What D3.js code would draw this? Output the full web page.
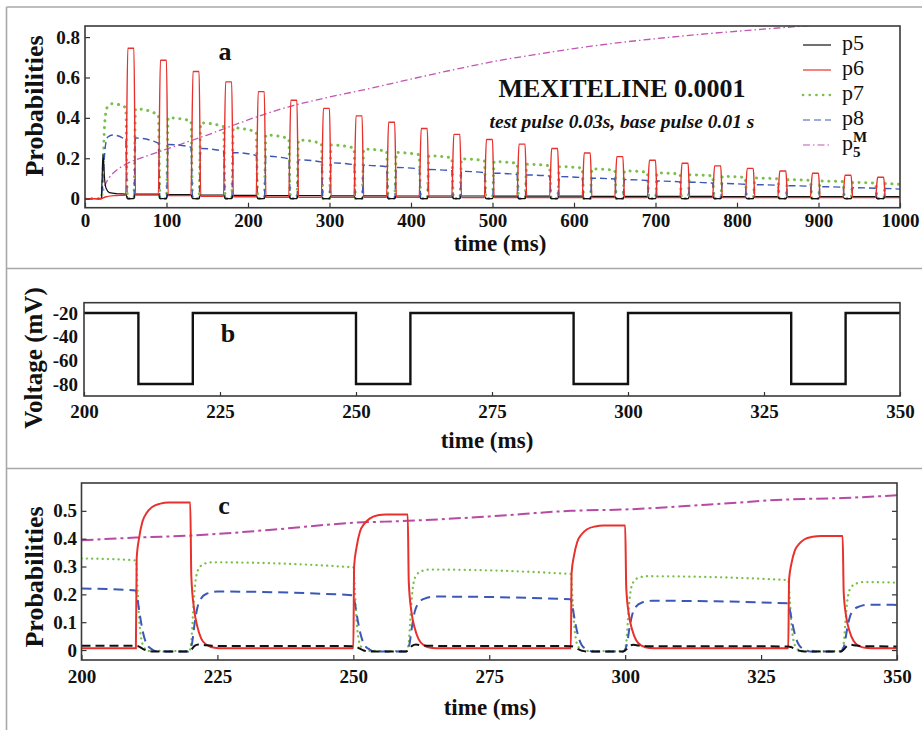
<!DOCTYPE html>
<html>
<head>
<meta charset="utf-8">
<script src="https://cdn.jsdelivr.net/npm/d3@7"></script>
<style>
  body { margin: 0; background: #fff; }
  svg text { font-family: "Liberation Serif", "Times New Roman", serif !important; }
</style>
</head>
<body>
<div id="chart"></div>
<script>
// ---------- panel a : 0..1000 ms, mexiletine 0.0001 ----------
const basePulseStarts = [50, 90, 130, 170, 210, 250, 290, 330, 370, 410, 450, 490,
                         530, 570, 610, 650, 690, 730, 770, 810, 850, 890, 930, 970];
const p6Peaks = [0.745, 0.685, 0.63, 0.578, 0.53, 0.487, 0.447, 0.41, 0.378, 0.347, 0.318, 0.293,
                 0.27, 0.248, 0.226, 0.208, 0.19, 0.175, 0.162, 0.15, 0.137, 0.126, 0.116, 0.106];
// level of each series during the 25 test pulses
const p6Base = [0.018, 0.018, 0.015, 0.012, 0.009, 0.007, 0.006, 0.006, 0.006, 0.006, 0.006, 0.005, 0.005,
                0.005, 0.005, 0.005, 0.005, 0.005, 0.005, 0.005, 0.005, 0.005, 0.005, 0.005, 0.005];
const p5Levels = [0.022, 0.022, 0.02, 0.018, 0.016, 0.015, 0.015, 0.014, 0.014, 0.013, 0.013, 0.013, 0.012,
                  0.012, 0.012, 0.011, 0.011, 0.011, 0.011, 0.01, 0.01, 0.01, 0.01, 0.01, 0.01];
const p7Start = [0.47, 0.445, 0.40, 0.375, 0.35, 0.315, 0.29, 0.265, 0.245, 0.228, 0.212, 0.197, 0.183,
                 0.17, 0.158, 0.147, 0.137, 0.127, 0.118, 0.11, 0.102, 0.094, 0.087, 0.08, 0.074];
const p7End = [0.45, 0.415, 0.385, 0.357, 0.33, 0.297, 0.273, 0.251, 0.235, 0.218, 0.202, 0.188, 0.175,
               0.163, 0.152, 0.141, 0.131, 0.122, 0.113, 0.105, 0.098, 0.09, 0.084, 0.077, 0.071];
const p8Start = [0.315, 0.30, 0.268, 0.248, 0.228, 0.21, 0.192, 0.177, 0.165, 0.154, 0.144, 0.135, 0.126,
                 0.117, 0.109, 0.101, 0.094, 0.087, 0.081, 0.075, 0.069, 0.064, 0.059, 0.054, 0.05];
const p8End = [0.29, 0.275, 0.255, 0.235, 0.214, 0.197, 0.182, 0.168, 0.158, 0.148, 0.138, 0.129, 0.12,
               0.112, 0.104, 0.097, 0.09, 0.083, 0.077, 0.071, 0.066, 0.061, 0.056, 0.051, 0.047];
// first depolarisation (t = 20 ms)
const p5Onset = [[0, 0], [20, 0], [21, 0.1], [22, 0.22], [23, 0.17], [24, 0.1], [26, 0.05], [30, 0.03], [40, 0.024], [50, 0.022]];
const p6Onset = [[0, 0], [20, 0], [25, 0.008], [35, 0.015], [50, 0.018]];
const p7Onset = [[0, 0], [20, 0], [22, 0.12], [24, 0.36], [27, 0.45], [33, 0.47], [42, 0.465], [50, 0.45]];
const p8Onset = [[0, 0], [20, 0], [22, 0.1], [25, 0.26], [28, 0.305], [34, 0.315], [50, 0.29]];
const pM5a = [[0, 0], [20, 0], [22, 0.03], [25, 0.07], [30, 0.105], [40, 0.145], [50, 0.17], [75, 0.21],
              [100, 0.245], [150, 0.315], [200, 0.39], [250, 0.455], [300, 0.503], [350, 0.546],
              [400, 0.592], [460, 0.645], [500, 0.678], [550, 0.712], [600, 0.743], [650, 0.77],
              [700, 0.792], [750, 0.812], [800, 0.829], [850, 0.845], [900, 0.86], [1000, 0.885]];

// ---------- panel b : voltage protocol ----------
const voltage = [[200, -20], [210, -80], [220, -20], [250, -80], [260, -20],
                 [290, -80], [300, -20], [330, -80], [340, -20], [350, -20]];

// ---------- panel c : zoom 200..350 ms ----------
const p6c = [[200, 0.006], [210, 0.006], [210.15, 0.329], [210.6, 0.403], [211.2, 0.461], [212, 0.493], [213, 0.514], [214.5, 0.526], [216, 0.53], [220, 0.53],
  [220.2, 0.265], [220.7, 0.148], [221.3, 0.085], [222, 0.042], [223, 0.019], [224.5, 0.008], [226, 0.006],
  [250, 0.006], [250.15, 0.302], [250.6, 0.37], [251.2, 0.424], [252, 0.453], [253, 0.472], [254.5, 0.484], [256, 0.487], [260, 0.487],
  [260.2, 0.244], [260.7, 0.136], [261.3, 0.078], [262, 0.039], [263, 0.017], [264.5, 0.007], [266, 0.006],
  [290, 0.006], [290.15, 0.277], [290.6, 0.34], [291.2, 0.389], [292, 0.416], [293, 0.434], [294.5, 0.444], [296, 0.447], [300, 0.447],
  [300.2, 0.224], [300.7, 0.125], [301.3, 0.072], [302, 0.036], [303, 0.016], [304.5, 0.007], [306, 0.006],
  [330, 0.006], [330.15, 0.254], [330.6, 0.312], [331.2, 0.357], [332, 0.381], [333, 0.398], [334.5, 0.407], [336, 0.41], [340, 0.41],
  [340.2, 0.205], [340.7, 0.115], [341.3, 0.066], [342, 0.033], [343, 0.014], [344.5, 0.007], [346, 0.006], [350, 0.006]];
const p7c = [[200, 0.329], [210, 0.322],
  [210.3, 0.225], [210.6, 0.113], [211, 0.039], [211.5, 0.01], [212.2, -0.003], [219.8, -0.004],
  [220.2, 0.032], [220.5, 0.126], [220.9, 0.236], [221.5, 0.29], [222.5, 0.309], [224, 0.315], [250, 0.297],
  [250.3, 0.208], [250.6, 0.104], [251, 0.036], [251.5, 0.009], [252.2, -0.003], [259.8, -0.004],
  [260.2, 0.029], [260.5, 0.116], [260.9, 0.217], [261.5, 0.266], [262.5, 0.283], [264, 0.289], [290, 0.273],
  [290.3, 0.191], [290.6, 0.096], [291, 0.033], [291.5, 0.008], [292.2, -0.003], [299.8, -0.004],
  [300.2, 0.027], [300.5, 0.106], [300.9, 0.199], [301.5, 0.244], [302.5, 0.26], [304, 0.265], [330, 0.251],
  [330.3, 0.176], [330.6, 0.088], [331, 0.03], [331.5, 0.008], [332.2, -0.003], [339.8, -0.004],
  [340.2, 0.024], [340.5, 0.098], [340.9, 0.183], [341.5, 0.224], [342.5, 0.239], [344, 0.244], [350, 0.242]];
const p8c = [[200, 0.221], [210, 0.214],
  [210.3, 0.182], [210.8, 0.118], [211.3, 0.064], [212, 0.021], [213, 0.002], [214, -0.005], [219.6, -0.005],
  [220.3, 0.021], [220.8, 0.095], [221.3, 0.151], [222, 0.185], [223, 0.202], [225, 0.21], [250, 0.197],
  [250.3, 0.167], [250.8, 0.108], [251.3, 0.059], [252, 0.02], [253, 0.002], [254, -0.005], [259.6, -0.005],
  [260.3, 0.019], [260.8, 0.086], [261.3, 0.138], [262, 0.169], [263, 0.184], [265, 0.192], [290, 0.182],
  [290.3, 0.155], [290.8, 0.1], [291.3, 0.055], [292, 0.018], [293, 0.002], [294, -0.005], [299.6, -0.005],
  [300.3, 0.018], [300.8, 0.08], [301.3, 0.127], [302, 0.156], [303, 0.17], [305, 0.177], [330, 0.168],
  [330.3, 0.143], [330.8, 0.092], [331.3, 0.05], [332, 0.017], [333, 0.002], [334, -0.005], [339.6, -0.005],
  [340.3, 0.016], [340.8, 0.073], [341.3, 0.117], [342, 0.143], [343, 0.156], [345, 0.163], [350, 0.162]];
const p5c = [[200, 0.015], [210, 0.015],
  [210.5, 0.013], [211.2, 0.005], [212, -0.002], [213, -0.005], [219.7, -0.005],
  [220.3, 0.004], [220.8, 0.015], [221.5, 0.02], [222.5, 0.018], [224, 0.015], [250, 0.014],
  [250.5, 0.012], [251.2, 0.005], [252, -0.002], [253, -0.005], [259.7, -0.005],
  [260.3, 0.004], [260.8, 0.015], [261.5, 0.02], [262.5, 0.017], [264, 0.015], [290, 0.014],
  [290.5, 0.012], [291.2, 0.005], [292, -0.002], [293, -0.005], [299.7, -0.005],
  [300.3, 0.004], [300.8, 0.015], [301.5, 0.019], [302.5, 0.016], [304, 0.014], [330, 0.013],
  [330.5, 0.011], [331.2, 0.004], [332, -0.002], [333, -0.005], [339.7, -0.005],
  [340.3, 0.004], [340.8, 0.014], [341.5, 0.019], [342.5, 0.016], [344, 0.014], [350, 0.013]];
const pM5c = [[200, 0.394], [210, 0.404], [220, 0.411], [235, 0.432], [250, 0.457], [260, 0.464],
  [275, 0.48], [290, 0.5], [300, 0.505], [315, 0.522], [330, 0.541], [340, 0.546], [350, 0.556]];

const legendLabels = ["p5", "p6", "p7", "p8", "p5M"];

// ---------- build panel a series from the per-pulse levels ----------
function testPulseEnd(k) {
  return k < basePulseStarts.length ? basePulseStarts[k] : 1000;
}
function buildDipping(onset, starts, ends) {
  const pts = onset.slice();
  basePulseStarts.forEach((b, k) => {
    pts.push([b + 2, 0], [b + 10, 0], [b + 12, starts[k + 1]], [testPulseEnd(k + 1), ends[k + 1]]);
  });
  return pts;
}
function buildSpiking() {
  const pts = p6Onset.slice();
  basePulseStarts.forEach((b, k) => {
    pts.push([b + 2.5, p6Peaks[k]], [b + 10, p6Peaks[k]], [b + 12, p6Base[k + 1]], [testPulseEnd(k + 1), p6Base[k + 1]]);
  });
  return pts;
}
function buildP5() {
  const pts = p5Onset.slice();
  basePulseStarts.forEach((b, k) => {
    pts.push([b + 2, 0], [b + 10, 0], [b + 11.5, p5Levels[k + 1]], [testPulseEnd(k + 1), p5Levels[k + 1]]);
  });
  return pts;
}

const W = 922, H = 730;
const FONT = '"Liberation Serif", "Times New Roman", serif';
const svg = d3.select("#chart").append("svg").attr("width", W).attr("height", H);

// outer light frame
const frameColor = "#a8a8a8";
[[6.5, 7, 922, 7], [6.5, 268.5, 922, 268.5], [6.5, 468.5, 922, 468.5], [6.5, 7, 6.5, 730]].forEach(l => {
  svg.append("line").attr("x1", l[0]).attr("y1", l[1]).attr("x2", l[2]).attr("y2", l[3])
    .attr("stroke", frameColor).attr("stroke-width", 1.6);
});

const colors = { p5: "#111", p6: "#e8312c", p7: "#78c04a", p8: "#3c58b6", pM: "#b64aa4" };

function panel(id, box, xDomain, yDomain) {
  const x = d3.scaleLinear().domain(xDomain).range([box.x0, box.x1]);
  const y = d3.scaleLinear().domain(yDomain).range([box.y1, box.y0]);
  svg.append("clipPath").attr("id", id)
    .append("rect").attr("x", box.x0).attr("y", box.y0)
    .attr("width", box.x1 - box.x0).attr("height", box.y1 - box.y0);
  const g = svg.append("g").attr("clip-path", `url(#${id})`);
  return { x, y, g, box };
}

function styleAxis(sel, size) {
  sel.attr("font-family", null);
  sel.select(".domain").remove();
  sel.selectAll("line").attr("stroke", "#333").attr("stroke-width", 1.2);
  sel.selectAll("text").style("font-family", FONT)
    .attr("font-weight", "bold").attr("font-size", size).attr("fill", "#111");
}

function drawFrame(p) {
  svg.append("rect").attr("x", p.box.x0).attr("y", p.box.y0)
    .attr("width", p.box.x1 - p.box.x0).attr("height", p.box.y1 - p.box.y0)
    .attr("fill", "none").attr("stroke", "#3a3a3a").attr("stroke-width", 1.6);
}

function drawLine(p, data, style, curve) {
  const line = d3.line().x(d => p.x(d[0])).y(d => p.y(d[1])).curve(curve || d3.curveMonotoneX);
  p.g.append("path").datum(data).attr("d", line)
    .attr("fill", "none").attr("stroke", style.color).attr("stroke-width", style.width)
    .attr("stroke-dasharray", style.dash || null)
    .attr("stroke-linecap", style.cap || "butt");
}

function label(txt, x, y, size, opts) {
  const o = opts || {};
  return svg.append("text")
    .attr("transform", `translate(${x},${y})` + (o.rotate ? " rotate(-90)" : ""))
    .attr("text-anchor", "middle").attr("dominant-baseline", o.central ? "central" : null)
    .attr("font-weight", "bold").attr("font-style", o.italic ? "italic" : null)
    .attr("font-size", size).attr("fill", "#111")
    .style("font-family", FONT).text(txt);
}

const probFormat = d => d === 0 ? "0" : d3.format(".1f")(d);

// ================= panel a =================
const pa = panel("clipA", { x0: 85, x1: 900, y0: 26, y1: 207.7 }, [0, 1000], [-0.045, 0.855]);
const styleA = {
  p5: { color: colors.p5, width: 1.2 },
  p6: { color: colors.p6, width: 1.4 },
  p7: { color: colors.p7, width: 3, dash: "0.1 6.6", cap: "round" },
  p8: { color: colors.p8, width: 1.4, dash: "7 4" },
  pM: { color: "#c057b0", width: 1.3, dash: "7 3 1.5 3" }
};
drawLine(pa, pM5a, styleA.pM);
drawLine(pa, buildDipping(p7Onset, p7Start, p7End), styleA.p7);
drawLine(pa, buildDipping(p8Onset, p8Start, p8End), styleA.p8);
drawLine(pa, buildP5(), styleA.p5);
drawLine(pa, buildSpiking(), styleA.p6);

svg.append("g").attr("transform", `translate(0,${pa.box.y1})`)
  .call(d3.axisBottom(pa.x).tickValues(d3.range(0, 1001, 100)).tickFormat(d3.format("d")).tickSize(-5).tickPadding(6))
  .call(s => styleAxis(s, 19));
svg.append("g").attr("transform", `translate(${pa.box.x0},0)`)
  .call(d3.axisLeft(pa.y).tickValues([0, 0.2, 0.4, 0.6, 0.8]).tickFormat(probFormat).tickSize(-5).tickPadding(5))
  .call(s => styleAxis(s, 19));
drawFrame(pa);

label("Probabilities", 34, 106, 26, { rotate: true, central: true });
label("time (ms)", 500, 243, 23, { central: true });
label("a", 225, 60, 26);
label("MEXITELINE 0.0001", 622, 96.5, 26);
label("test pulse 0.03s, base pulse 0.01 s", 622, 128, 19.5, { italic: true });

// legend
const legendStyles = [styleA.p5, styleA.p6, styleA.p7, styleA.p8, styleA.pM];
const legendY = d3.scalePoint().domain(legendLabels).range([45, 145]);
legendLabels.forEach((lab, i) => {
  const yy = legendY(lab);
  const s = legendStyles[i];
  svg.append("line").attr("x1", 803).attr("x2", 831).attr("y1", yy).attr("y2", yy)
    .attr("stroke", s.color).attr("stroke-width", i === 2 ? 2.6 : 1.2)
    .attr("stroke-dasharray", s.dash || null).attr("stroke-linecap", s.cap || "butt");
  const t = svg.append("text").attr("x", 842).attr("y", yy + 5).attr("font-size", 22)
    .attr("fill", "#111").style("font-family", FONT);
  if (lab === "p5M") {
    t.append("tspan").text("p");
    t.append("tspan").attr("dy", -8).attr("font-weight", "bold").attr("font-size", 15).text("M");
    t.append("tspan").attr("x", 853).attr("dy", 15).attr("font-weight", "bold").attr("font-size", 15).text("5");
  } else {
    t.text(lab);
  }
});

// ================= panel b =================
const pb = panel("clipB", { x0: 84, x1: 900, y0: 302.7, y1: 396 }, [200, 350], [-90.2, -11.3]);
drawLine(pb, voltage, { color: "#111", width: 2.4 }, d3.curveStepAfter);
svg.append("g").attr("transform", `translate(0,${pb.box.y1})`)
  .call(d3.axisBottom(pb.x).tickValues(d3.range(200, 351, 25)).tickFormat(d3.format("d")).tickSize(-4).tickPadding(9))
  .call(s => styleAxis(s, 19));
svg.append("g").attr("transform", `translate(${pb.box.x0},0)`)
  .call(d3.axisLeft(pb.y).tickValues([-20, -40, -60, -80]).tickFormat(d => String(d)).tickSize(0).tickPadding(6))
  .call(s => styleAxis(s, 19));
drawFrame(pb);
label("Voltage (mV)", 33, 358, 25, { rotate: true, central: true });
label("time (ms)", 487, 440, 23, { central: true });
label("b", 228, 342, 26);

// ================= panel c =================
const pc = panel("clipC", { x0: 81.5, x1: 897, y0: 483, y1: 660 }, [200, 350], [-0.0358, 0.6]);
const styleC = {
  p5: { color: colors.p5, width: 2, dash: "9 5" },
  p6: { color: colors.p6, width: 2 },
  p7: { color: colors.p7, width: 2.3, dash: "0.1 5.2", cap: "round" },
  p8: { color: colors.p8, width: 2, dash: "10 6" },
  pM: { color: colors.pM, width: 2, dash: "12 4 3 4" }
};
drawLine(pc, pM5c, styleC.pM);
drawLine(pc, p7c, styleC.p7);
drawLine(pc, p8c, styleC.p8);
drawLine(pc, p6c, styleC.p6);
drawLine(pc, p5c, styleC.p5);

svg.append("g").attr("transform", `translate(0,${pc.box.y1})`)
  .call(d3.axisBottom(pc.x).tickValues(d3.range(200, 351, 25)).tickFormat(d3.format("d")).tickSize(-5).tickPadding(9.5))
  .call(s => styleAxis(s, 19));
const yTicksC = [0, 0.1, 0.2, 0.3, 0.4, 0.5];
svg.append("g").attr("transform", `translate(${pc.box.x0},0)`)
  .call(d3.axisLeft(pc.y).tickValues(yTicksC).tickFormat(probFormat).tickSize(-5).tickPadding(4.5))
  .call(s => styleAxis(s, 19));
svg.append("g").attr("transform", `translate(${pc.box.x1},0)`)
  .call(d3.axisRight(pc.y).tickValues(yTicksC).tickFormat("").tickSize(-5))
  .call(s => styleAxis(s, 19));
drawFrame(pc);
label("Probabilities", 34, 577, 26, { rotate: true, central: true });
label("time (ms)", 490, 707, 23, { central: true });
label("c", 224, 513.5, 26);
</script>
</body>
</html>
